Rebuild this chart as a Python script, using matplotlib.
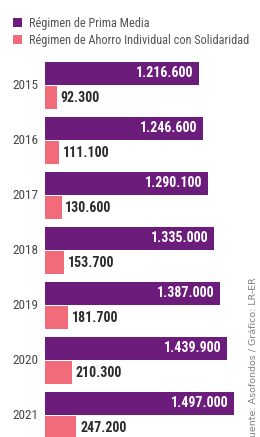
import matplotlib
matplotlib.use("Agg")
import matplotlib.pyplot as plt
import numpy as np

# Afiliados por régimen pensional (Colombia)
anios = ["2015", "2016", "2017", "2018", "2019", "2020", "2021"]
prima_media = [1216600, 1246600, 1290100, 1335000, 1387000, 1439900, 1497000]
ahorro_ind = [92300, 111100, 130600, 153700, 181700, 210300, 247200]
etiquetas = ["Régimen de Prima Media", "Régimen de Ahorro Individual con Solidaridad"]

MORADO = "#6c1d7c"
ROSA = "#f26b7b"
plt.rcParams["font.family"] = ["DejaVu Sans Condensed", "Liberation Sans Narrow",
                               "Roboto Condensed", "Roboto"]
plt.rcParams["font.stretch"] = "condensed"

fig = plt.figure(figsize=(2.6, 4.37), dpi=100)
ax = fig.add_axes([0, 0, 1, 1])
y = np.arange(len(anios))

ax.barh(y - 0.22, prima_media, height=0.42, color=MORADO, label=etiquetas[0])
ax.barh(y + 0.22, ahorro_ind, height=0.42, color=ROSA, label=etiquetas[1])

fmt = lambda v: f"{v:,}".replace(",", ".")
for i in range(len(anios)):
    ax.text(prima_media[i] - 45000, y[i] - 0.22, fmt(prima_media[i]), color="white",
            fontsize=10, fontweight="bold", ha="right", va="center")
    ax.text(ahorro_ind[i] + 30000, y[i] + 0.22, fmt(ahorro_ind[i]), color="#2a2a2a",
            fontsize=10, fontweight="bold", ha="left", va="center")
    ax.text(-158000, y[i], anios[i], color="#484848", fontsize=9.5,
            ha="center", va="center")

ax.set_xlim(-356000, 1701000)
ax.set_ylim(6.391, -1.5545)
ax.axis("off")

leg = ax.legend(loc="upper left", bbox_to_anchor=(0.05, 0.962), frameon=False,
                fontsize=8.8, handlelength=0.7, handleheight=0.7, handletextpad=0.6,
                labelspacing=0.35, borderaxespad=0, borderpad=0)
for t in leg.get_texts():
    t.set_color("#555555")

# fuente vertical, cortada en el borde inferior como en el original
fig.text(0.975, 0.366, "Fuente: Asofondos / Gráfico: LR-ER", rotation=90,
         fontsize=6.8, color="#808080", ha="center", va="top",
         family="DejaVu Sans", fontstretch="normal")

fig.savefig("out.png", dpi=100)
